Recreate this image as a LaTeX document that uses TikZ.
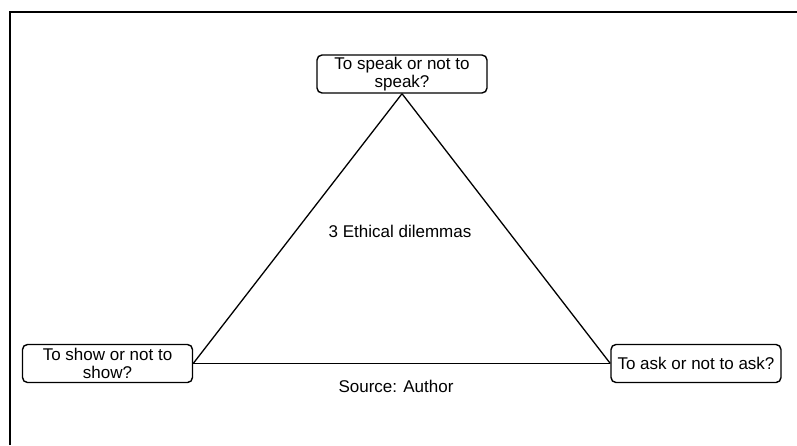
\documentclass[tikz,border=0pt]{standalone}
\usepackage{fontspec}
\setmainfont{Liberation Sans}
\begin{document}
\begin{tikzpicture}[x=1pt,y=1pt,
  dilemma/.style={draw, line width=1.4pt, rounded corners=5pt, minimum width=170pt, minimum height=38pt, inner sep=1pt, align=center, font=\fontsize{17}{19}\selectfont},
  plain/.style={font=\fontsize{17}{19}\selectfont, inner sep=0pt},
  edge/.style={line width=1.3pt}]
\useasboundingbox (0,0) rectangle (797,-445);
\fill[white] (0,0) rectangle (797,-445);
\draw[line width=2.6pt] (10,-445) -- (10,-12) -- (797,-12);
\node[dilemma] (speak) at (402,-74) {To speak or not to\\[-1pt]speak?};
\node[dilemma] (show) at (107.5,-363.5) {To show or not to\\[-1pt]show?};
\node[dilemma] (ask) at (696,-363.5) {To ask or not to ask?};
\node[plain] (title) at (400,-231) {3 Ethical dilemmas};
\node[plain] (src) at (396,-386) {Source: Author};
\draw[edge] (speak.south) -- (show.east);
\draw[edge] (show.east) -- (ask.west);
\draw[edge] (ask.west) -- (speak.south);
\end{tikzpicture}
\end{document}
